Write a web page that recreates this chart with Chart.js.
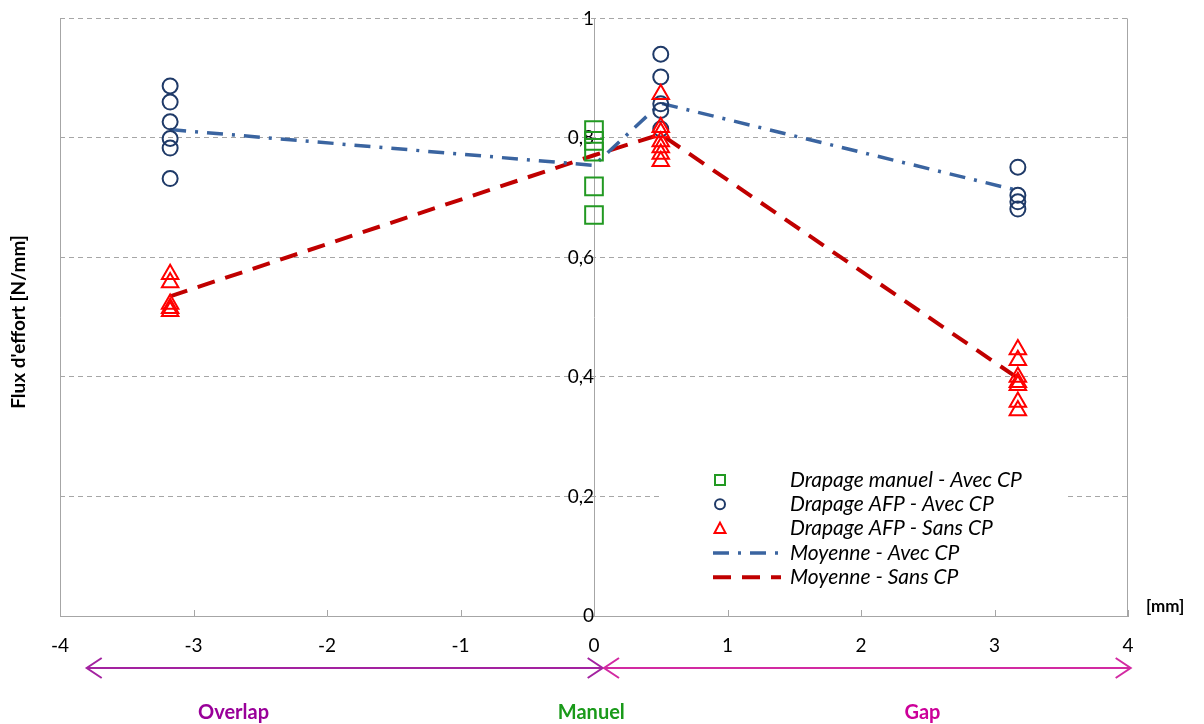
<!DOCTYPE html>
<html>
<head>
<meta charset="utf-8">
<script src="https://cdn.jsdelivr.net/npm/chart.js@4.4.1/dist/chart.umd.min.js"></script>
<style>
  html, body { margin: 0; padding: 0; background: #fff; }
  #wrap { width: 1204px; height: 724px; }
</style>
</head>
<body>
<div id="wrap"><canvas id="myChart"></canvas></div>
<script>
// x positions (mm) of the tested configurations
const overlapX = -3.175;
const manualX = 0;
const gapSmallX = 0.5;
const gapLargeX = 3.175;

// Drapage manuel - Avec CP (x = 0)
const manualAvec = [0.813, 0.795, 0.777, 0.719, 0.671];

// Drapage AFP - Avec CP
const afpAvecOverlap = [0.887, 0.860, 0.827, 0.799, 0.783, 0.732];
const afpAvecGapSmall = [0.940, 0.902, 0.857, 0.846, 0.815];
const afpAvecGapLarge = [0.751, 0.704, 0.693, 0.681];

// Drapage AFP - Sans CP
const afpSansOverlap = [0.572, 0.558, 0.522, 0.515, 0.510];
const afpSansGapSmall = [0.873, 0.818, 0.809, 0.794, 0.784, 0.773, 0.761];
const afpSansGapLarge = [0.446, 0.428, 0.400, 0.391, 0.386, 0.358, 0.344];

// averages
const meanX = [overlapX, manualX, gapSmallX, gapLargeX];
const meanAvec = [0.814, 0.754, 0.858, 0.712];
const meanSans = [0.535, 0.771, 0.806, 0.398];

const pts = (x, ys) => ys.map((y) => ({ x: x, y: y }));

const FONT = "Lato, 'Liberation Sans', sans-serif";

const decor = {
  id: "decor",
  beforeDatasetsDraw(chart) {
    const { ctx, chartArea: a } = chart;
    const xs = chart.scales.x;
    ctx.save();
    ctx.strokeStyle = "#a6a6a6";
    ctx.lineWidth = 1;
    ctx.beginPath();
    ctx.moveTo(a.left + 0.5, a.top);
    ctx.lineTo(a.left + 0.5, a.bottom);
    ctx.moveTo(a.right - 0.5, a.top);
    ctx.lineTo(a.right - 0.5, a.bottom);
    xs.ticks.forEach((t) => {
      const px = Math.round(xs.getPixelForValue(t.value)) + 0.5;
      ctx.moveTo(px, a.bottom);
      ctx.lineTo(px, a.bottom - 6);
    });
    ctx.stroke();
    ctx.restore();
  },
  afterDatasetsDraw(chart) {
    const { ctx, chartArea: a } = chart;
    const xs = chart.scales.x;
    ctx.save();

    // legend box
    ctx.fillStyle = "#fff";
    ctx.fillRect(660, 462, 408, 128);
    const sets = chart.data.datasets;
    sets.forEach((ds, i) => {
      const y = 480 + i * 24.3;
      ctx.save();
      if (ds.showLine) {
        ctx.strokeStyle = ds.borderColor;
        ctx.lineWidth = ds.borderWidth;
        ctx.setLineDash(ds.borderDash);
        ctx.beginPath();
        ctx.moveTo(713, y);
        ctx.lineTo(781, y);
        ctx.stroke();
      } else {
        ctx.strokeStyle = ds.borderColor;
        ctx.lineWidth = 2;
        ctx.beginPath();
        if (ds.pointStyle === "rect") ctx.rect(715, y - 5, 10, 10);
        else if (ds.pointStyle === "circle") ctx.arc(720, y, 5, 0, Math.PI * 2);
        else { ctx.moveTo(720, y - 6); ctx.lineTo(725.5, y + 4.5); ctx.lineTo(714.5, y + 4.5); ctx.closePath(); }
        ctx.stroke();
      }
      ctx.restore();
      ctx.fillStyle = "#000";
      ctx.font = "italic 21px " + FONT;
      ctx.textBaseline = "middle";
      ctx.textAlign = "left";
      ctx.fillText(ds.label, 790, y);
    });

    // range arrows under the x axis
    const arrow = (v1, v2, y, color) => {
      const x1 = xs.getPixelForValue(v1);
      const x2 = xs.getPixelForValue(v2);
      ctx.strokeStyle = color;
      ctx.lineWidth = 2;
      ctx.beginPath();
      ctx.moveTo(x1, y);
      ctx.lineTo(x2, y);
      ctx.moveTo(x1 + 15, y - 10);
      ctx.lineTo(x1, y);
      ctx.lineTo(x1 + 15, y + 10);
      ctx.moveTo(x2 - 15, y - 10);
      ctx.lineTo(x2, y);
      ctx.lineTo(x2 - 15, y + 10);
      ctx.stroke();
    };
    arrow(-3.8, 0.065, 668, "#a322a0");
    arrow(0.075, 4.02, 668, "#d22aa2");

    ctx.font = "bold 20px " + FONT;
    ctx.textAlign = "center";
    ctx.textBaseline = "middle";
    ctx.fillStyle = "#990099";
    ctx.fillText("Overlap", xs.getPixelForValue(-2.7), 713);
    ctx.fillStyle = "#1a9a1a";
    ctx.fillText("Manuel", xs.getPixelForValue(-0.02), 713);
    ctx.fillStyle = "#cc0099";
    ctx.fillText("Gap", xs.getPixelForValue(2.46), 713);

    // axis titles
    ctx.fillStyle = "#000";
    ctx.font = "bold 17px " + FONT;
    ctx.textAlign = "left";
    ctx.fillText("[mm]", 1146, 607);
    ctx.save();
    ctx.font = "bold 19px " + FONT;
    ctx.translate(19, 322);
    ctx.rotate(-Math.PI / 2);
    ctx.textAlign = "center";
    ctx.fillText("Flux d'effort [N/mm]", 0, 0);
    ctx.restore();

    ctx.restore();
  },
};

const ctx = document.getElementById("myChart");
new Chart(ctx, {
  type: "scatter",
  data: {
    datasets: [
      {
        label: "Drapage manuel - Avec CP",
        data: pts(manualX, manualAvec),
        pointStyle: "rect",
        pointRadius: 12.5,
        borderWidth: 2,
        borderColor: "#229922",
        backgroundColor: "rgba(0,0,0,0)",
        order: 1,
      },
      {
        label: "Drapage AFP - Avec CP",
        data: [
          ...pts(overlapX, afpAvecOverlap),
          ...pts(gapSmallX, afpAvecGapSmall),
          ...pts(gapLargeX, afpAvecGapLarge),
        ],
        pointStyle: "circle",
        pointRadius: 7.5,
        borderWidth: 2,
        borderColor: "#1f3a68",
        backgroundColor: "rgba(0,0,0,0)",
        order: 2,
      },
      {
        label: "Drapage AFP - Sans CP",
        data: [
          ...pts(overlapX, afpSansOverlap),
          ...pts(gapSmallX, afpSansGapSmall),
          ...pts(gapLargeX, afpSansGapLarge),
        ],
        pointStyle: "triangle",
        pointRadius: 9.5,
        borderWidth: 2,
        borderColor: "#ff0000",
        backgroundColor: "rgba(0,0,0,0)",
        order: 1,
      },
      {
        label: "Moyenne - Avec CP",
        data: meanX.map((x, i) => ({ x: x, y: meanAvec[i] })),
        showLine: true,
        pointRadius: 0,
        borderColor: "#3a64a0",
        borderWidth: 3.5,
        borderDash: [16, 9, 3, 9],
        order: 3,
      },
      {
        label: "Moyenne - Sans CP",
        data: meanX.map((x, i) => ({ x: x, y: meanSans[i] })),
        showLine: true,
        pointRadius: 0,
        borderColor: "#c00000",
        borderWidth: 4,
        borderDash: [18, 11],
        order: 3,
      },
    ],
  },
  options: {
    responsive: true,
    maintainAspectRatio: false,
    animation: false,
    layout: { padding: { left: 60, right: 76, top: 18, bottom: 0 } },
    plugins: {
      legend: { display: false },
      tooltip: { enabled: false },
    },
    scales: {
      x: {
        type: "linear",
        min: -4,
        max: 4,
        ticks: { stepSize: 1, color: "#000", font: { family: FONT, size: 19 }, padding: 18 },
        grid: { display: false, drawTicks: false },
        border: { display: true, color: "#a6a6a6", width: 1 },
        afterFit: (scale) => { scale.height = 108; },
      },
      y: {
        type: "linear",
        position: { x: 0 },
        min: 0,
        max: 1,
        ticks: {
          stepSize: 0.2,
          color: "#000",
          font: { family: FONT, size: 19 },
          padding: 7,
          callback: (v) => (Number.isInteger(v) ? String(v) : v.toFixed(1).replace(".", ",")),
        },
        grid: { color: "#a6a6a6", drawTicks: false, lineWidth: 1 },
        border: { display: true, color: "#a6a6a6", width: 1, dash: [5, 4] },
      },
    },
  },
  plugins: [decor],
});
</script>
</body>
</html>
